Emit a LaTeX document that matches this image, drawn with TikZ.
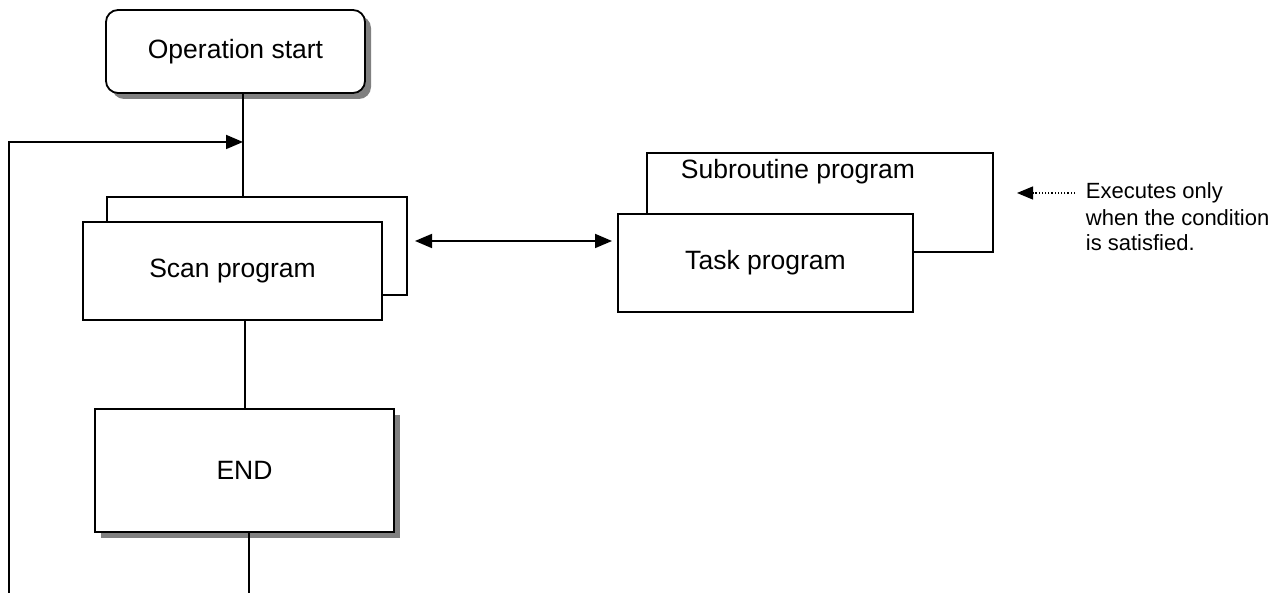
\documentclass[tikz,border=0pt]{standalone}
\usepackage{fontspec}
\setmainfont{Liberation Sans}
\usetikzlibrary{arrows.meta,shadows}
\begin{document}
\begin{tikzpicture}[x=1pt,y=-1pt,
  line width=1.8pt,
  shadowed/.style={drop shadow={shadow xshift=6pt,shadow yshift=-6pt,fill=black!50,opacity=1}},
  box/.style={draw,fill=white,inner sep=0pt,font=\fontsize{26.5}{31}\selectfont},
  txt/.style={inner sep=0pt,font=\fontsize{26.5}{31}\selectfont},
  backbox/.style={draw,fill=white,inner sep=0pt},
  arr/.style={-{Triangle[length=17pt,width=14pt]}},
  darr/.style={{Triangle[length=17pt,width=14pt]}-{Triangle[length=17pt,width=14pt]}},
  note/.style={font=\fontsize{22}{26}\selectfont,align=left,anchor=west,inner sep=0pt}
]
\useasboundingbox (0,0) rectangle (1286,593);
% Operation start
\node[box,shadowed,rounded corners=12pt,minimum width=259pt,minimum height=83pt] (op) at (235.5,51.5) {Operation start};
% Scan program
\node[backbox,minimum width=300pt,minimum height=98pt] (scanback) at (257,246) {};
\node[box,minimum width=299pt,minimum height=98pt] (scan) at (232.5,271) {Scan program};
% END
\node[box,shadowed,minimum width=299pt,minimum height=123pt] (end) at (244.5,470.5) {END};
% Subroutine / Task
\node[backbox,minimum width=346pt,minimum height=99pt] (subback) at (820,202.5) {};
\node[txt] (sublabel) at (798,172) {Subroutine program};
\node[box,minimum width=295pt,minimum height=98pt] (task) at (765.5,263) {Task program};
% note
\node[note] (n1) at (1085,193) {Executes only};
\node[note] (n2) at (1085,218) {when the condition};
\node[note] (n3) at (1085,243) {is satisfied.};
% coordinates
\coordinate (j) at (243,142);
\coordinate (loopL) at (9,142);
\coordinate (loopB) at (9,593);
\coordinate (endB) at (249,593);
\coordinate (dA) at (415,241);
\coordinate (dB) at (612,241);
\coordinate (ntip) at (1017,193);
% connectors
\draw (op.south -| j) -- (j |- scanback.north);
\draw[arr] (loopB) -- (loopL) -- (j);
\draw (245,320) -- (245,409);
\draw (end.south -| endB) -- (endB);
\draw[darr] (dA) -- (dB);
\draw[line width=1.2pt,dotted,-{Triangle[length=16pt,width=13pt]}] (n1.west) ++(-10,0) -- (ntip);
\end{tikzpicture}
\end{document}
